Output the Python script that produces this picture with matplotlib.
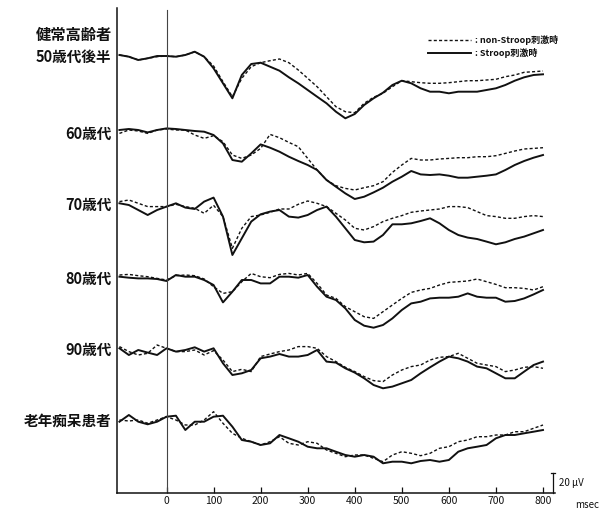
import numpy as np
import matplotlib
matplotlib.use('Agg')
import matplotlib.pyplot as plt

plt.rcParams['font.family'] = ['Noto Sans CJK JP', 'DejaVu Sans']

# ---------------- data ----------------
times_ms = np.arange(-100, 801, 20)
tick_ms = [0, 100, 200, 300, 400, 500, 600, 700, 800]
header_label = '健常高齢者'
group_labels = ['50歳代後半', '60歳代', '70歳代', '80歳代', '90歳代', '老年痴呆患者']
legend_labels = [': non-Stroop刺激時', ': Stroop刺激時']
scale_uv = 20

# amplitudes in microvolts (positive plotted downward, as in the figure)
stroop_50 = [0, 1.7, 5, 3.3, 1, 1, 1.7, 0, -3.3, 1.7, 13.3, 28.3, 43.3, 20, 9, 7.7,
             11.7, 15.7, 22.3, 28.3, 35, 41.7, 48.3, 56.7, 63.3, 59, 50, 43.3, 37.7, 30,
             25.7, 28.3, 33.3, 36.7, 36.7, 38.3, 36.7, 36.7, 36.7, 35, 33.3, 30, 25.7,
             22.3, 20, 19.3]
nonstroop_50 = [0, 1.7, 5, 3.3, 1.7, 1, 1.7, 0, -3.3, 1.7, 11, 26.7, 41.7, 23.3, 11.7,
                7.7, 5.7, 4, 7.7, 15, 23.3, 31.7, 41.7, 51.7, 56.7, 57.7, 48.3, 42.3, 38.3,
                31.7, 25.7, 26.7, 27.7, 28.3, 28.3, 27.7, 26.7, 25.7, 25.7, 25, 24.3, 21.7,
                20, 17.3, 16.7, 16]

stroop_60 = [-1.7, -2.7, -1.7, 0.7, -1.7, -3.3, -2.7, -1.7, -0.7, 0, 3.3, 11.7, 28.3, 30,
             21.7, 12.7, 16, 20, 25, 29.3, 33.3, 38.3, 48.3, 55, 61.7, 67.3, 65, 60.7, 56,
             50, 45, 39.3, 42.7, 43.3, 42.7, 44, 46, 46, 45, 44, 42.7, 38.3, 33.3, 29.3,
             26, 23.3]
nonstroop_60 = [1.7, -1.7, -0.7, 1.7, -1.7, -2.7, -1.7, -1.7, 3.3, 6.7, 4, 10, 23.3, 26.7,
                23.3, 16.7, 2.7, 6, 10.7, 15, 26.7, 38.3, 48.3, 54, 56.7, 58.3, 56, 54, 50,
                40.7, 33.3, 26.7, 28.3, 28.3, 27.3, 26.7, 26, 26, 25, 25, 24, 21.7, 19.3,
                17.3, 16.7, 16]

stroop_70 = [0, 1.7, 6.7, 11.7, 6.7, 3.3, 0, 4.3, 5.7, -1.7, -5.7, 13.3, 51.7, 35, 18.3,
             11, 8.3, 6.7, 13.3, 14.3, 11.7, 6.7, 3.3, 13.3, 25, 36.7, 39, 38.3, 31.7, 21,
             21, 20, 17.7, 15, 20, 26.7, 31.7, 34.3, 35.7, 38.3, 41, 39, 35.7, 33.3, 30,
             26.7]
nonstroop_70 = [-1.7, -3.3, 0, 3.3, 3.3, 3.3, 1, 3.3, 5, 10, 2, 13.3, 45, 25, 13.3, 11.7,
                9, 5.7, 5.7, 1, -2.3, 0, 3.3, 10, 16.7, 25, 26.7, 23.3, 18.3, 15, 12.3, 9,
                7.7, 6.7, 5.7, 3.3, 3.3, 4.3, 8.3, 12.3, 13.3, 15, 15, 13.3, 12.3, 13.3]

stroop_80 = [0, 1, 1.7, 1.7, 2.3, 4.3, -1.7, 0, 0, 3.3, 8.3, 25.7, 15, 3.3, 3.3, 6.7, 6.7,
             0, 0, 1, -1.7, 10, 20, 23.3, 31.7, 43.3, 49, 51, 48.3, 41.7, 33.3, 26.7, 25,
             21.7, 21, 21, 20, 16.7, 20, 21, 21, 25, 24.3, 21.7, 17.7, 13.3]
nonstroop_80 = [-1.7, -2.3, -1, 0, 1.7, 3.3, -1, -1.7, -1, 2.3, 10, 16.7, 15, 5, -3.3, 0,
                1, -2.3, -3.3, -1.7, -3.3, 6.7, 18.3, 21.7, 30, 35, 40, 41.7, 35, 28.3, 21.7,
                15.7, 13.3, 11.7, 8.3, 5.7, 5, 4.3, 2.3, 5, 7.7, 11, 11, 11.7, 13.3, 10]

stroop_90 = [0, 6.7, 1.7, 4.3, 6.7, 0, 3.3, 1.7, -1, 3.3, 0, 15, 26.7, 25, 21.7, 10, 8.3,
             5.7, 8.3, 8.3, 6.7, 1.7, 13.3, 14.3, 20, 24.3, 30, 36.7, 40, 38.3, 35, 31.7,
             25, 19, 13.3, 8.3, 10, 13.3, 18.3, 20, 25, 30, 30, 23.3, 16.7, 13.3]
nonstroop_90 = [-1.7, 3.3, 6.7, 5, -3.3, 0, 3.3, 3.3, 1.7, 6.7, 2.3, 11.7, 23.3, 21, 23.3,
                8.3, 5.7, 3.3, 1.7, -1.7, -1.7, 0, 8.3, 13.3, 19, 23.3, 28.3, 32.3, 33.3,
                26.7, 21.7, 18.3, 16.7, 11.7, 9, 8.3, 5, 10, 15, 16.7, 18.3, 23.3, 21.7, 19,
                18.3, 20]

stroop_dem = [1.7, -5, 1.7, 4.3, 1.7, -3.3, -4.3, 10, 1.7, 1.7, -3.3, -4.3, 6.7, 20, 21.7,
              25, 23.3, 15, 18.3, 21.7, 26.7, 28.3, 28.3, 31.7, 35, 36.7, 35, 36.7, 43.3,
              41.7, 41.7, 43.3, 41, 40, 41.7, 40, 31.7, 28.3, 26.7, 25, 18.3, 15, 15, 13.3,
              11.7, 10]
nonstroop_dem = [0, 1, 0, 3.3, 0, -3.3, 0, 5, 5, 0, -8.3, 3.3, 13.3, 18.3, 21.7, 25, 21.7,
                 16.7, 23.3, 25, 21.7, 23.3, 30, 33.3, 36.7, 35, 35, 38.3, 41.7, 35, 31.7,
                 33.3, 35.7, 33.3, 28.3, 26.7, 21.7, 20, 16.7, 16.7, 15, 15, 11.7, 11.7,
                 8.3, 5]

stroop_series = [stroop_50, stroop_60, stroop_70, stroop_80, stroop_90, stroop_dem]
nonstroop_series = [nonstroop_50, nonstroop_60, nonstroop_70, nonstroop_80, nonstroop_90,
                    nonstroop_dem]

# ---------------- layout ----------------
W, H = 601, 509
fig = plt.figure(figsize=(W / 100, H / 100), dpi=100)
fig.patch.set_facecolor('white')
ax = fig.add_axes([117 / W, (H - 493) / H, (555 - 117) / W, (493 - 8) / H])
ax.set_xlim(-105.2, 825.5)
ax.set_ylim(493, 8)
ax.set_facecolor('none')

row_base = [55, 131.7, 203.3, 276.7, 348.3, 420]
ink = '#111111'

for base, s, n in zip(row_base, stroop_series, nonstroop_series):
    ax.plot(times_ms, base + np.array(n), color=ink, lw=1.0, ls=(0, (2.2, 1.6)))
    ax.plot(times_ms, base + np.array(s), color=ink, lw=1.4, solid_joinstyle='round')

# stimulus onset line
ax.plot([0, 0], [10, 493], color='#444444', lw=0.8)

for sp in ['top', 'right']:
    ax.spines[sp].set_visible(False)
for sp in ['left', 'bottom']:
    ax.spines[sp].set_linewidth(1.1)
    ax.spines[sp].set_color(ink)

ax.set_yticks([])
ax.set_xticks(tick_ms)
ax.set_xticklabels([str(t) for t in tick_ms])
ax.tick_params(axis='x', direction='in', length=4, width=0.9, labelsize=7.5, pad=2,
               colors=ink)

# group labels
lab_x = -117
ax.text(lab_x + 2, 35, header_label, ha='right', va='center', fontsize=11,
        fontweight='bold', color=ink, clip_on=False)
for base, lab in zip(row_base, group_labels):
    ax.text(lab_x, base + 2, lab, ha='right', va='center', fontsize=10.5,
            fontweight='bold', color=ink, clip_on=False)

# legend
ax.plot([556, 646], [40, 40], color=ink, lw=1.0, ls=(0, (2.2, 1.6)))
ax.plot([556, 646], [53, 53], color=ink, lw=1.4)
ax.text(655, 40, legend_labels[0], ha='left', va='center', fontsize=6.5,
        fontweight='bold', color=ink)
ax.text(655, 53, legend_labels[1], ha='left', va='center', fontsize=6.5,
        fontweight='bold', color=ink)

# scale bar
bar_x = 821
ax.plot([bar_x, bar_x], [493 - scale_uv, 493], color=ink, lw=0.9, clip_on=False)
ax.plot([bar_x - 5, bar_x + 5], [493 - scale_uv, 493 - scale_uv], color=ink, lw=0.9,
        clip_on=False)
ax.text(bar_x + 13, 483, f'{scale_uv} μV', ha='left', va='center', fontsize=7,
        color=ink, clip_on=False)
ax.text(868, 505, 'msec', ha='left', va='center', fontsize=7, color=ink, clip_on=False)

fig.savefig('out.png', dpi=100, facecolor='white')
